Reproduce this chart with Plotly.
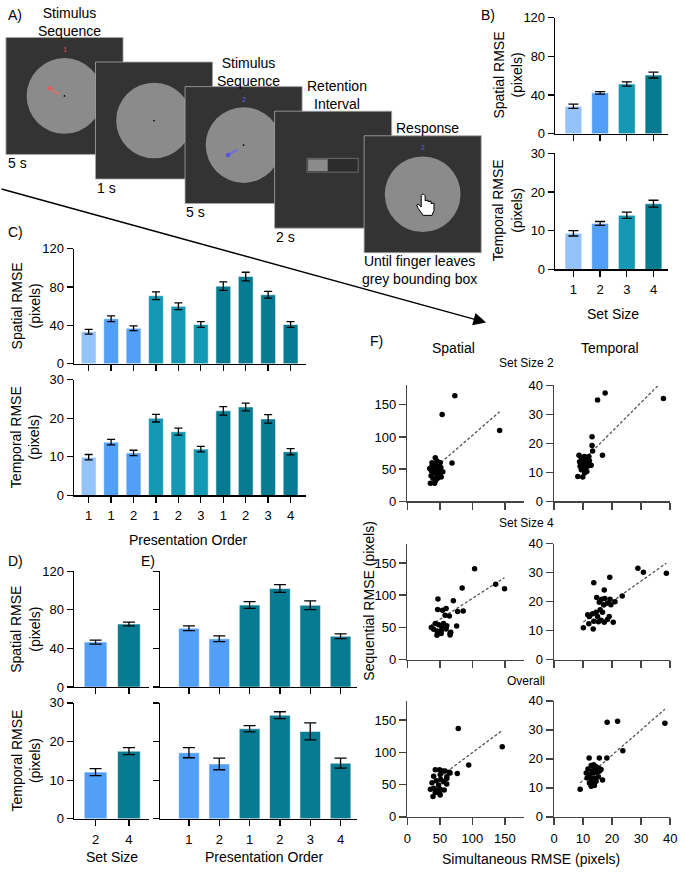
import plotly.graph_objects as go

W, H = 685, 875
FONT = "Liberation Sans, Arial, Helvetica, sans-serif"

# ---------------- DATA ----------------
# Panel B
b_setsize = [1, 2, 3, 4]
b_spatial = [28.5, 42.4, 51.5, 60.7]
b_spatial_err = [2.2, 1.3, 2.2, 3.0]
b_temporal = [9.35, 11.9, 14.0, 17.0]
b_temporal_err = [0.7, 0.5, 0.8, 0.9]

# Panel C
c_ticklabels = ['1', '1', '2', '1', '2', '3', '1', '2', '3', '4']
c_setsize = [1, 2, 2, 3, 3, 3, 4, 4, 4, 4]
c_spatial = [33.5, 47, 37, 71, 60, 41, 81, 91, 72, 41]
c_spatial_err = [2.5, 3, 2.5, 4, 3.5, 3, 4.5, 4.5, 3.5, 3]
c_temporal = [9.9, 13.8, 11.0, 20.0, 16.5, 12.0, 21.9, 22.9, 19.8, 11.3]
c_temporal_err = [0.7, 0.7, 0.7, 1.0, 0.9, 0.7, 1.1, 1.0, 1.1, 0.8]

# Panel D
d_ticklabels = ['2', '4']
d_setsize = [2, 4]
d_spatial = [46.6, 65.3]
d_spatial_err = [2.0, 2.0]
d_temporal = [12.1, 17.5]
d_temporal_err = [0.9, 0.9]

# Panel E
e_ticklabels = ['1', '2', '1', '2', '3', '4']
e_setsize = [2, 2, 4, 4, 4, 4]
e_spatial = [60.9, 50.0, 85.0, 102.0, 84.7, 52.7]
e_spatial_err = [2.5, 3.0, 3.5, 4.0, 4.5, 2.5]
e_temporal = [17.1, 14.2, 23.3, 26.8, 22.6, 14.4]
e_temporal_err = [1.3, 1.5, 0.8, 0.9, 2.2, 1.3]

# Panel F (simultaneous x, sequential y)
f_ss2_spatial_x = [73, 53.5, 142, 68.7, 42.9, 45.5, 37.9, 50.5, 34.3, 40.4, 45.5, 48, 54.5, 41.4,
                   36.4, 45.5, 50.5, 39.4, 46.5, 35.4, 41.9, 42.9, 36.8, 51.5, 43.4, 37.9, 48, 52]
f_ss2_spatial_y = [164, 135, 110, 59.6, 67.7, 62.6, 60.1, 60.1, 51, 50, 52.5, 47.5, 46, 45,
                   39.9, 40.9, 42.4, 35.9, 35.9, 28.3, 28.3, 57.6, 47.5, 52.5, 32.3, 55, 56, 38]
f_ss2_temporal_x = [17.6, 15.0, 37.7, 16.7, 13.1, 13.1, 13.3, 8.6, 9.4, 10.5, 11.3, 12.0, 8.8, 9.9,
                    11.1, 12.2, 12.8, 9.0, 10.2, 10.8, 9.4, 11.3, 10.5, 8.2, 9.9, 11.6, 9.7, 10.8]
f_ss2_temporal_y = [37.4, 35.0, 35.5, 15.9, 22.3, 19.3, 17.4, 15.9, 15.1, 15.5, 14.6, 15.5, 13.7, 13.4,
                    12.9, 14.0, 12.5, 12.1, 11.8, 11.2, 10.9, 10.3, 9.8, 8.6, 8.4, 12.1, 14.6, 14.0]
f_ss4_spatial_x = [103.5, 135.9, 149.5, 84.3, 47, 70.7, 46.5, 54, 59.6, 77.3, 85.9, 58, 64.6, 43, 48,
                   55.6, 60.6, 53, 36.8, 40.4, 45.5, 52, 59.6, 65.7, 75.8, 45.5, 52, 65.7, 66.7]
f_ss4_spatial_y = [141, 117, 110, 111, 94, 91.4, 77.8, 76.8, 79.3, 74.7, 75.3, 69, 67.6, 56, 54,
                   56, 52.5, 50, 50, 47, 44.4, 44.4, 47.5, 40.9, 52, 37.9, 40.4, 38.4, 42.4]
f_ss4_temporal_x = [28.9, 30.8, 38.7, 23.5, 13.7, 19.2, 17.3, 14.7, 16.4, 17.5, 19.3, 21.0, 15.6, 17.1,
                    18.4, 19.6, 11.6, 12.2, 13.3, 14.5, 15.0, 15.9, 16.7, 19.0, 18.4, 12.0, 13.7, 15.3,
                    16.2, 17.3, 20.4, 10.1, 13.5]
f_ss4_temporal_y = [31.5, 30.1, 29.8, 21.9, 26.5, 28.4, 24.0, 21.4, 20.8, 21.1, 20.8, 20.0, 19.8, 18.9,
                    19.4, 18.9, 15.5, 14.9, 15.8, 16.3, 14.9, 17.2, 16.3, 14.9, 13.8, 12.4, 13.2, 13.1,
                    13.6, 12.9, 12.9, 11.0, 10.6]
f_all_spatial_x = [78.3, 146, 94.4, 76.8, 42.9, 49.5, 54.5, 58, 64.6, 40.4, 50.5, 60.6, 37.9, 44.4, 51.5,
                   55.6, 48, 60.6, 35.4, 40.4, 45.5, 50.5, 56.6, 42.9, 49.5, 39.4, 50.5, 60.6, 65.7]
f_all_spatial_y = [137, 109, 80.5, 67.5, 73.3, 73.3, 71.3, 71.3, 69.2, 63.1, 65.6, 62.1, 53, 56, 58,
                   54.5, 49.3, 50.9, 42.7, 44.3, 41.7, 42.7, 41.7, 37.7, 36.6, 31.6, 34, 59.5, 68.2]
f_all_temporal_x = [18.3, 21.9, 38.2, 23.7, 18.2, 12.1, 15.6, 9.0, 12.8, 13.7, 14.5, 11.7, 13.1, 14.0,
                    15.4, 11.1, 12.2, 13.3, 14.5, 15.6, 16.2, 11.4, 12.8, 13.9, 15.3, 12.2, 13.3, 14.5,
                    12.8, 13.9, 16.7]
f_all_temporal_y = [32.6, 33.0, 32.3, 22.8, 20.3, 20.3, 20.3, 9.5, 17.7, 18.0, 17.3, 16.5, 15.9, 16.5,
                    16.8, 15.1, 14.5, 15.1, 15.4, 15.7, 16.3, 13.4, 13.1, 13.4, 13.8, 11.7, 11.5, 12.3,
                    10.6, 10.8, 12.7]
# regression fits: [slope, intercept]
f_fit_ss2_spatial = [0.875, 14.9]
f_fit_ss2_temporal = [1.0, 4.1]
f_fit_ss4_spatial = [0.65, 30.0]
f_fit_ss4_temporal = [0.71, 5.8]
f_fit_all_spatial = [0.75, 24.6]
f_fit_all_temporal = [0.87, 3.9]

spatial_ticks = [0, 50, 100, 150]
temporal_ticks = [0, 10, 20, 30, 40]

# ---------------- STYLE ----------------
colors = {1: '#93c3f8', 2: '#529ff7', 3: '#1499b4', 4: '#077b91'}

fig = go.Figure()
layout = dict(width=W, height=H, margin=dict(l=0, r=0, t=0, b=0),
              paper_bgcolor='white', plot_bgcolor='white', showlegend=False,
              font=dict(family=FONT, size=13, color='black'))
shapes = []
annotations = []


def xdom(a, b):
    return [a / W, b / W]


def ydom(top, bottom):
    return [1 - bottom / H, 1 - top / H]


naxes = [0]


def add_axes(xd, yd, xr, yr, xtickvals, ytickvals, xticktext=None, show_x=True, show_y=True,
             lc='black', lw=1.3, ticklen=6):
    naxes[0] += 1
    k = naxes[0]
    s = '' if k == 1 else str(k)
    base = dict(showline=True, linecolor=lc, linewidth=lw, ticks='outside', ticklen=ticklen,
                tickwidth=lw, tickcolor=lc, showgrid=False, zeroline=False, fixedrange=True,
                tickfont=dict(family=FONT, size=13, color='black'))
    xa = dict(base, domain=xd, range=xr, anchor='y' + s, tickmode='array', tickvals=xtickvals,
              showticklabels=show_x, ticklabelstandoff=2)
    if xticktext is not None:
        xa['ticktext'] = xticktext
    ya = dict(base, domain=yd, range=yr, anchor='x' + s, tickmode='array', tickvals=ytickvals,
              showticklabels=show_y)
    layout['xaxis' + s] = xa
    layout['yaxis' + s] = ya
    return 'x' + s, 'y' + s


def add_bars(xa, ya, vals, errs, setsizes, width, cap):
    fig.add_trace(go.Bar(
        x=list(range(1, len(vals) + 1)), y=vals, width=width,
        marker=dict(color=[colors[s] for s in setsizes],
                    line=dict(color='rgba(255,255,255,0.55)', width=1)),
        error_y=dict(type='data', array=errs, color='black', thickness=1.3, width=cap),
        xaxis=xa, yaxis=ya, hoverinfo='skip'))


def text(px, py, s, size=14, xanchor='center', yanchor='middle', angle=0, color='black'):
    annotations.append(dict(x=px / W, y=1 - py / H, xref='paper', yref='paper', text=s,
                            showarrow=False, xanchor=xanchor, yanchor=yanchor, textangle=angle,
                            font=dict(family=FONT, size=size, color=color)))


# ---------------- PANEL B ----------------
xa, ya = add_axes(xdom(560, 675), ydom(11, 129), [0.31, 4.55], [0, 120], [1, 2, 3, 4],
                  [0, 40, 80, 120], show_x=False)
add_bars(xa, ya, b_spatial, b_spatial_err, b_setsize, 0.63, 5)
xa, ya = add_axes(xdom(560, 675), ydom(149, 267), [0.31, 4.55], [0, 30], [1, 2, 3, 4],
                  [0, 10, 20, 30], xticktext=[str(v) for v in b_setsize])
add_bars(xa, ya, b_temporal, b_temporal_err, b_setsize, 0.63, 5)
text(512, 69, 'Spatial RMSE<br>(pixels)', angle=-90)
text(512, 207, 'Temporal RMSE<br>(pixels)', angle=-90)
text(619, 312, 'Set Size')

# ---------------- PANEL C ----------------
xa, ya = add_axes(xdom(71, 307), ydom(246, 363), [0.34, 10.69], [0, 120], list(range(1, 11)),
                  [0, 40, 80, 120], show_x=False)
add_bars(xa, ya, c_spatial, c_spatial_err, c_setsize, 0.66, 4)
xa, ya = add_axes(xdom(71, 307), ydom(379, 497), [0.34, 10.69], [0, 30], list(range(1, 11)),
                  [0, 10, 20, 30], xticktext=c_ticklabels)
add_bars(xa, ya, c_temporal, c_temporal_err, c_setsize, 0.66, 4)
text(22, 304, 'Spatial RMSE<br>(pixels)', angle=-90)
text(22, 438, 'Temporal RMSE<br>(pixels)', angle=-90)
text(188, 542, 'Presentation Order')

# ---------------- PANEL D ----------------
xa, ya = add_axes(xdom(71, 147), ydom(574, 692), [0.35, 2.59], [0, 120], [1, 2],
                  [0, 40, 80, 120], show_x=False)
add_bars(xa, ya, d_spatial, d_spatial_err, d_setsize, 0.68, 6)
xa, ya = add_axes(xdom(71, 147), ydom(708, 826), [0.35, 2.59], [0, 30], [1, 2],
                  [0, 10, 20, 30], xticktext=d_ticklabels)
add_bars(xa, ya, d_temporal, d_temporal_err, d_setsize, 0.68, 6)
text(22, 633, 'Spatial RMSE<br>(pixels)', angle=-90)
text(22, 767, 'Temporal RMSE<br>(pixels)', angle=-90)
text(110, 865, 'Set Size')

# ---------------- PANEL E ----------------
xa, ya = add_axes(xdom(159, 359), ydom(574, 692), [0.06, 6.55], [0, 120], list(range(1, 7)),
                  [0, 40, 80, 120], show_x=False, show_y=False)
add_bars(xa, ya, e_spatial, e_spatial_err, e_setsize, 0.68, 6)
xa, ya = add_axes(xdom(159, 359), ydom(708, 826), [0.06, 6.55], [0, 30], list(range(1, 7)),
                  [0, 10, 20, 30], xticktext=e_ticklabels, show_y=False)
add_bars(xa, ya, e_temporal, e_temporal_err, e_setsize, 0.68, 6)
text(265, 865, 'Presentation Order')

# ---------------- PANEL F ----------------
f_rows = [
    (385, 503, f_ss2_spatial_x, f_ss2_spatial_y, f_fit_ss2_spatial,
     f_ss2_temporal_x, f_ss2_temporal_y, f_fit_ss2_temporal, False),
    (546, 664, f_ss4_spatial_x, f_ss4_spatial_y, f_fit_ss4_spatial,
     f_ss4_temporal_x, f_ss4_temporal_y, f_fit_ss4_temporal, False),
    (706, 824, f_all_spatial_x, f_all_spatial_y, f_fit_all_spatial,
     f_all_temporal_x, f_all_temporal_y, f_fit_all_temporal, True),
]
FLC = '#444444'
for top, bot, sx, sy, sfit, tx, ty, tfit, showx in f_rows:
    for (x0, x1, rng, ticks, xs, ys, fit) in [
            (410, 528.8, [0, 180], spatial_ticks, sx, sy, sfit),
            (559, 677, [0, 40], temporal_ticks, tx, ty, tfit)]:
        xa, ya = add_axes(xdom(x0, x1), ydom(top, bot), rng, rng, ticks, ticks,
                          show_x=showx, lc=FLC, lw=1.5, ticklen=7)
        lx = [min(xs), max(xs)]
        ly = [fit[0] * v + fit[1] for v in lx]
        fig.add_trace(go.Scatter(x=lx, y=ly, mode='lines',
                                 line=dict(color='#555555', width=1.3, dash='3px,2px'),
                                 xaxis=xa, yaxis=ya, hoverinfo='skip', cliponaxis=True))
        fig.add_trace(go.Scatter(x=xs, y=ys, mode='markers',
                                 marker=dict(color='black', size=5.5),
                                 xaxis=xa, yaxis=ya, hoverinfo='skip', cliponaxis=False))

text(457, 347, 'Spatial')
text(616, 347, 'Temporal')
text(531, 362, 'Set Size 2', size=12)
text(531, 525, 'Set Size 4', size=12)
text(531, 686, 'Overall', size=12)
text(371, 604, 'Sequential RMSE (pixels)', angle=-90)
text(536, 867, 'Simultaneous RMSE (pixels)')

# ---------------- PANEL A (schematic) ----------------


def rect(x0, y0, x1, y1, **kw):
    shapes.append(dict(type='rect', xref='paper', yref='paper', x0=x0 / W, x1=x1 / W,
                       y0=1 - y1 / H, y1=1 - y0 / H, **kw))


def circ(cx, cy, r, color, **kw):
    shapes.append(dict(type='circle', xref='paper', yref='paper', x0=(cx - r) / W,
                       x1=(cx + r) / W, y0=1 - (cy + r) / H, y1=1 - (cy - r) / H,
                       fillcolor=color, line=dict(width=0), **kw))


SCREEN = '#333333'
CIRCLE = '#8b8b8b'
for i in range(5):
    ox, oy = 2 + 91 * i, 31 + 25 * i
    rect(ox, oy, ox + 119, oy + 119, fillcolor=SCREEN, line=dict(color='#a8a8a8', width=0.8))
    cx, cy = ox + 59.5, oy + 59.5
    if i != 3:
        circ(cx, cy, 38.5, CIRCLE)
    if i in (0, 1, 2):
        circ(cx, cy, 0.9, 'black')
    if i == 0:
        for dx, dy in [(-6.5, -2.5), (-8.5, -3.5), (-10.5, -4.5), (-12.5, -5.5)]:
            circ(cx + dx, cy + dy, 1.2, '#d87474')
        circ(cx - 14.8, cy - 7.8, 2.4, '#e35f5f')
        text(cx, oy + 12, '1', size=7, color='#e05050')
    if i == 2:
        for dx, dy in [(-7.5, 5.5), (-9.5, 6.5), (-11.5, 7.5), (-13.5, 8.5)]:
            circ(cx + dx, cy + dy, 1.2, '#6a6ae8')
        circ(cx - 15.8, cy + 10.2, 2.4, '#5555e6')
        text(cx, oy + 13, '2', size=7, color='#6060f0')
    if i == 3:
        rect(ox + 33, oy + 48, ox + 85, oy + 62, fillcolor='#2c2c2c', line=dict(color='#6a6a6a', width=1))
        rect(ox + 34, oy + 49, ox + 54, oy + 61, fillcolor=CIRCLE, line=dict(width=0))
    if i == 4:
        text(cx, oy + 12, '2', size=7, color='#6060f0')
        hand = [(424, 192), (426, 190), (428, 192), (428, 197), (431, 196.5), (431, 198),
                (434, 197.5), (434, 200), (437, 199.5), (437, 207), (435, 212), (426, 212),
                (421, 205), (419.5, 201.5), (421, 200.5), (424, 203.5)]
        path = 'M ' + ' L '.join(f'{x / W:.5f},{1 - y / H:.5f}' for x, y in hand) + ' Z'
        shapes.append(dict(type='path', xref='paper', yref='paper', path=path,
                           fillcolor='white', line=dict(color='black', width=1)))

text(67, 15, 'Stimulus<br>Sequence')
text(248, 66, 'Stimulus<br>Sequence')
text(338, 90, 'Retention<br>Interval')
text(430, 123, 'Response')
text(2, 159, '5 s', xanchor='left')
text(92, 184, '1 s', xanchor='left')
text(183, 209, '5 s', xanchor='left')
text(274, 234, '2 s', xanchor='left')
text(362, 267.5, 'Until finger leaves<br>grey bounding box', xanchor='left')

# arrow
annotations.append(dict(x=490 / W, y=1 - 321 / H, xref='paper', yref='paper', text='',
                        showarrow=True, ax=-488, ay=-134, arrowhead=2, arrowsize=1.7,
                        arrowwidth=1.5, arrowcolor='black', standoff=0, startstandoff=0))

# panel letters
text(2, 8, 'A)', xanchor='left')
text(483, 8, 'B)', xanchor='left')
text(2, 229, 'C)', xanchor='left')
text(2, 564, 'D)', xanchor='left')
text(137, 564, 'E)', xanchor='left')
text(370, 340, 'F)', xanchor='left')

layout['shapes'] = shapes
layout['annotations'] = annotations
layout['bargap'] = 0
layout['hovermode'] = False
fig.update_layout(**layout)
fig.write_html(
    'out.html',
    config={'displayModeBar': False, 'staticPlot': True},
    post_script=("document.documentElement.style.margin='0px';"
                 "document.documentElement.style.overflow='hidden';"
                 "document.body.style.margin='0px';document.body.style.padding='0px';"
                 "document.body.style.overflow='hidden';"))
